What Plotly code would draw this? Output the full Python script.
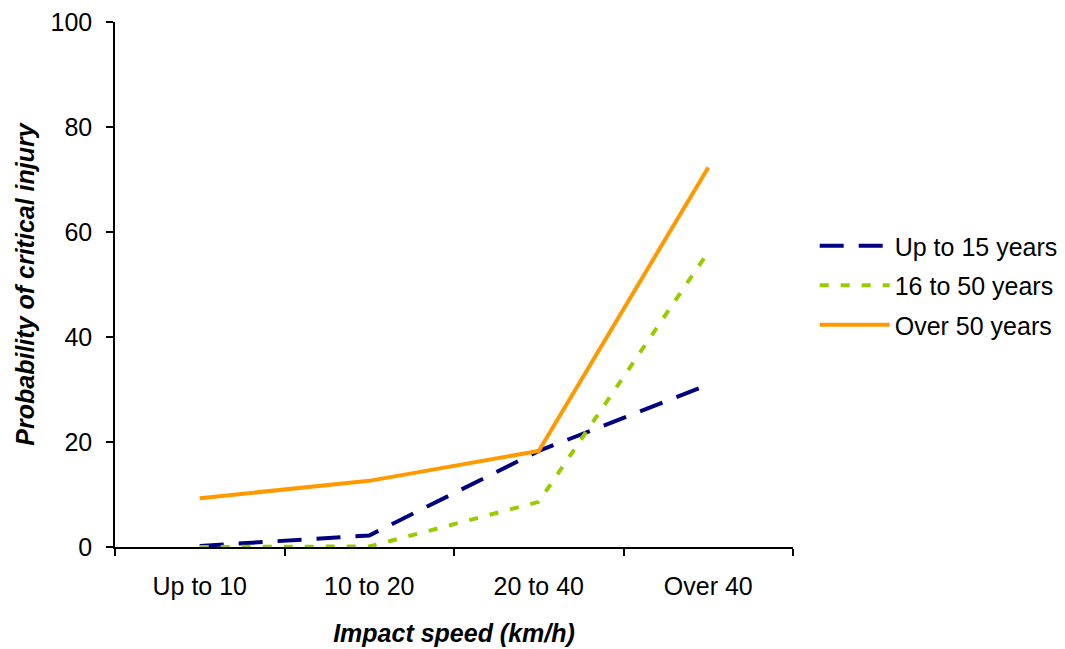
import plotly.graph_objects as go

# Impact speed bands on the x axis
speed_bands = ["Up to 10", "10 to 20", "20 to 40", "Over 40"]

# Probability of critical injury (%) by age group
up_to_15 = [0.2, 2.2, 18.3, 30.9]
age_16_to_50 = [0.0, 0.1, 8.6, 56.2]
over_50 = [9.3, 12.6, 18.3, 72.3]

series_names = ["Up to 15 years", "16 to 50 years", "Over 50 years"]
y_ticks = [0, 20, 40, 60, 80, 100]

FONT = "Liberation Sans, Arial, sans-serif"

fig = go.Figure()
fig.add_trace(go.Scatter(
    x=speed_bands, y=up_to_15, name=series_names[0], mode="lines",
    legendgroup="a",
    line=dict(color="#000080", width=4, dash="24px,15px"),
))
fig.add_trace(go.Scatter(
    x=speed_bands, y=age_16_to_50, name=series_names[1], mode="lines",
    legendgroup="b",
    line=dict(color="#99CC00", width=4, dash="9px,12px"),
))
fig.add_trace(go.Scatter(
    x=speed_bands, y=over_50, name=series_names[2], mode="lines",
    legendgroup="c",
    line=dict(color="#FF9900", width=4),
))

fig.update_layout(
    width=1065, height=649,
    margin=dict(l=115, r=272, t=22, b=102, autoexpand=False),
    paper_bgcolor="white", plot_bgcolor="white",
    font=dict(family=FONT, size=25, color="black"),
    showlegend=True,
    legend=dict(
        x=1.032, y=0.498, xanchor="left", yanchor="middle",
        font=dict(size=25), itemwidth=70, tracegroupgap=4,
        bgcolor="rgba(0,0,0,0)",
    ),
    xaxis=dict(
        type="category", range=[-0.5, 3.5], automargin=False,
        showline=True, linecolor="black", linewidth=1.5,
        ticks="outside", tickson="boundaries", ticklen=7, tickwidth=1.5,
        tickcolor="black", showgrid=False, zeroline=False,
        tickfont=dict(size=25), ticklabelstandoff=16,
        title=dict(text="<b><i>Impact speed (km/h)</i></b>",
                   font=dict(size=25), standoff=26),
    ),
    yaxis=dict(
        range=[0, 100], tickvals=y_ticks, automargin=False,
        showline=True, linecolor="black", linewidth=1.5,
        ticks="outside", ticklen=7, tickwidth=1.5, tickcolor="black",
        showgrid=False, zeroline=False,
        tickfont=dict(size=25), ticklabelstandoff=9,
        title=dict(text="<b><i>Probability of critical injury</i></b>",
                   font=dict(size=25), standoff=9),
    ),
)

fig.write_html("out.html")
